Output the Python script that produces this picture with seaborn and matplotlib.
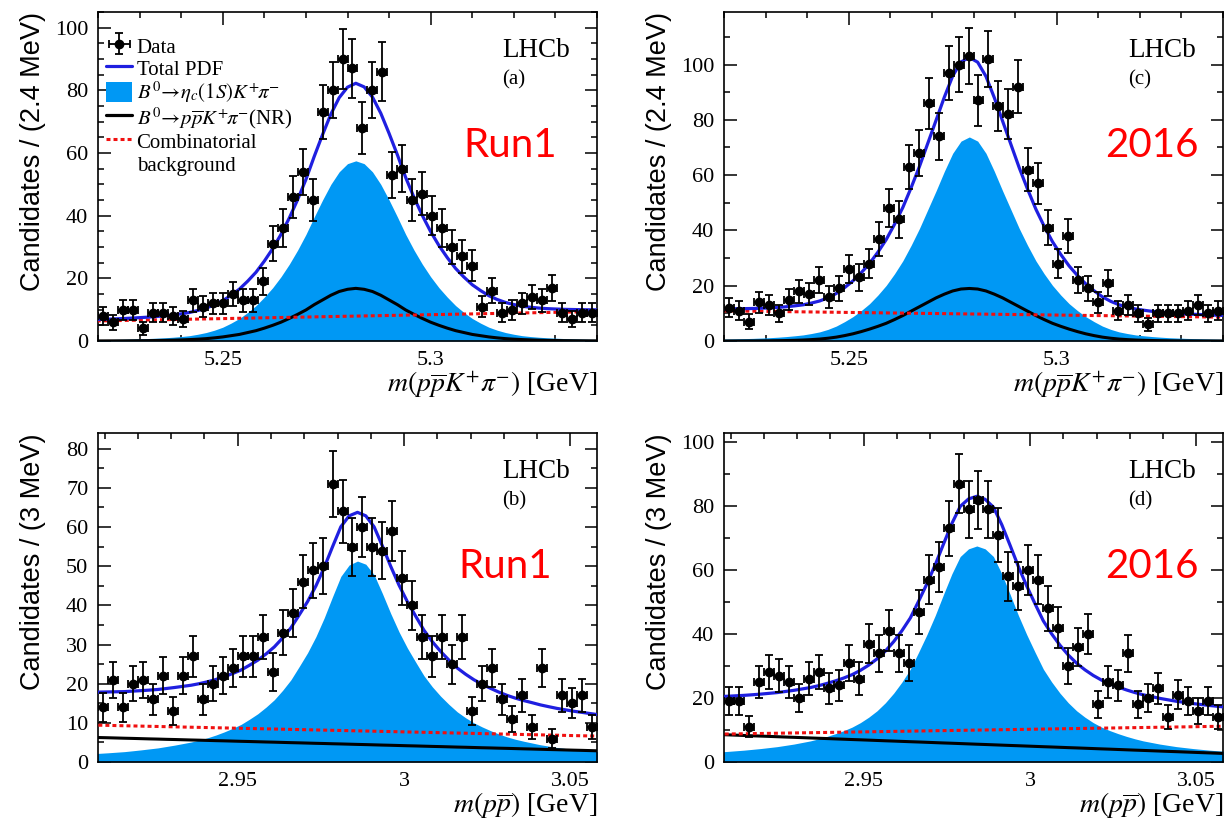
import numpy as np
import pandas as pd
import matplotlib
matplotlib.use("Agg")
import matplotlib.pyplot as plt
import seaborn as sns
from matplotlib.lines import Line2D
from matplotlib.patches import Patch
from matplotlib.ticker import FixedLocator, MultipleLocator

# ---------------- data ----------------
n_bins = 50
top_range = (5.22, 5.34)      # m(p pbar K+ pi-) [GeV], 2.4 MeV bins
bot_range = (2.908, 3.058)    # m(p pbar) [GeV], 3 MeV bins

counts_a = [8, 6, 10, 10, 4, 9, 9, 8, 7, 13, 11, 12, 12, 15, 13, 13, 19, 31, 36, 46,
            54, 45, 73, 80, 90, 87, 68, 80, 86, 53, 55, 45, 47, 40, 36, 30, 27, 24, 11, 16,
            9, 10, 12, 14, 13, 17, 9, 7, 9, 9]
counts_c = [12, 11, 7, 14, 13, 10, 15, 18, 17, 22, 16, 19, 26, 23, 28, 37, 48, 44, 63, 68,
            86, 74, 97, 100, 103, 87, 102, 85, 82, 92, 62, 57, 41, 28, 38, 22, 19, 14, 21, 11,
            13, 10, 6, 10, 10, 10, 11, 13, 10, 11]
counts_b = [14, 21, 14, 20, 21, 16, 22, 13, 22, 27, 16, 20, 22, 24, 27, 27, 32, 23, 33, 38,
            46, 49, 50, 71, 64, 55, 60, 55, 54, 59, 47, 40, 32, 27, 32, 25, 32, 13, 20, 24,
            16, 11, 17, 9, 24, 6, 17, 15, 17, 9]
counts_d = [19, 19, 11, 25, 28, 27, 25, 20, 26, 28, 23, 24, 31, 26, 37, 34, 41, 34, 31, 47,
            57, 61, 73, 87, 79, 82, 79, 71, 58, 55, 60, 57, 48, 42, 30, 36, 40, 18, 25, 24,
            34, 18, 20, 23, 14, 21, 19, 16, 19, 14]

# fit components on a regular grid (start, step)
grid_a = (5.218, 0.002)
sig_a = [0.4, 0.42, 0.45, 0.5, 0.55, 0.62, 0.7, 0.79, 0.9, 1.03, 1.2, 1.42, 1.7, 2.15, 2.7,
         3.45, 4.4, 5.7, 7.2, 9.1, 11.3, 14.0, 17.0, 20.5, 24.5, 29.0, 34.0, 39.6, 45.0, 50.0,
         54.0, 56.6, 57.5, 56.6, 54.0, 50.0, 45.0, 39.6, 34.0, 29.0, 24.5, 20.5, 17.0, 14.0,
         11.3, 9.1, 7.2, 5.7, 4.4, 3.45, 2.7, 2.15, 1.7, 1.42, 1.2, 1.03, 0.9, 0.79, 0.7, 0.62,
         0.55, 0.5, 0.45]
nr_a = [0.02, 0.03, 0.04, 0.05, 0.06, 0.08, 0.1, 0.12, 0.16, 0.2, 0.26, 0.35, 0.45, 0.58, 0.75,
        1.0, 1.3, 1.7, 2.1, 2.7, 3.3, 4.1, 5.0, 6.0, 7.2, 8.5, 9.9, 11.6, 13.1, 14.6, 15.8, 16.5,
        16.8, 16.5, 15.8, 14.6, 13.1, 11.6, 9.9, 8.5, 7.2, 6.0, 5.0, 4.1, 3.3, 2.7, 2.1, 1.7,
        1.3, 1.0, 0.75, 0.58, 0.45, 0.35, 0.26, 0.2, 0.16, 0.12, 0.1, 0.08, 0.06, 0.05, 0.04]
comb_a = [6.35, 6.40, 6.45, 6.50, 6.55, 6.60, 6.65, 6.70, 6.75, 6.80, 6.85, 6.90, 6.95, 7.00,
          7.05, 7.10, 7.15, 7.20, 7.25, 7.30, 7.35, 7.40, 7.45, 7.50, 7.55, 7.60, 7.65, 7.70,
          7.75, 7.80, 7.85, 7.90, 7.95, 8.00, 8.05, 8.10, 8.15, 8.20, 8.25, 8.30, 8.35, 8.40,
          8.45, 8.50, 8.55, 8.60, 8.65, 8.70, 8.75, 8.80, 8.85, 8.90, 8.95, 9.00, 9.05, 9.10,
          9.15, 9.20, 9.25, 9.30, 9.35, 9.40, 9.45]

grid_c = (5.215, 0.002)
sig_c = [0.55, 0.6, 0.65, 0.72, 0.8, 0.87, 0.95, 1.07, 1.2, 1.38, 1.6, 1.88, 2.2, 2.7, 3.3, 4.2,
         5.4, 7.0, 8.8, 11.0, 13.5, 16.6, 20.1, 24.3, 29.0, 34.6, 40.7, 47.5, 54.3, 61.4, 67.9,
         72.3, 73.8, 72.3, 67.9, 61.4, 54.3, 47.5, 40.7, 34.6, 29.0, 24.3, 20.1, 16.6, 13.5,
         11.0, 8.8, 7.0, 5.4, 4.2, 3.3, 2.7, 2.2, 1.88, 1.6, 1.38, 1.2, 1.07, 0.95, 0.87, 0.8,
         0.72, 0.65, 0.6, 0.55]
nr_c = [0.01, 0.01, 0.01, 0.015, 0.02, 0.03, 0.04, 0.06, 0.08, 0.12, 0.17, 0.25, 0.35, 0.5, 0.7,
        1.0, 1.4, 1.95, 2.6, 3.4, 4.3, 5.3, 6.4, 7.75, 9.2, 10.8, 12.4, 14.0, 15.6, 16.95, 18.1,
        18.8, 19.0, 18.8, 18.1, 16.95, 15.6, 14.0, 12.4, 10.8, 9.2, 7.75, 6.4, 5.3, 4.3, 3.4,
        2.6, 1.95, 1.4, 1.0, 0.7, 0.5, 0.35, 0.25, 0.17, 0.12, 0.08, 0.06, 0.04, 0.03, 0.02,
        0.015, 0.01, 0.01, 0.01]
comb_c = [11.0, 10.96, 10.92, 10.89, 10.85, 10.81, 10.77, 10.73, 10.70, 10.66, 10.62, 10.58,
          10.54, 10.51, 10.47, 10.43, 10.39, 10.35, 10.32, 10.28, 10.24, 10.20, 10.16, 10.13,
          10.09, 10.05, 10.01, 9.97, 9.94, 9.90, 9.86, 9.82, 9.78, 9.75, 9.71, 9.67, 9.63, 9.59,
          9.56, 9.52, 9.48, 9.44, 9.40, 9.37, 9.33, 9.29, 9.25, 9.21, 9.18, 9.14, 9.10, 9.06,
          9.02, 8.99, 8.95, 8.91, 8.87, 8.83, 8.80, 8.76, 8.72, 8.68, 8.64, 8.61, 8.57]

grid_b = (2.906, 0.0025)
sig_b = [2.1, 2.22, 2.35, 2.5, 2.65, 2.87, 3.1, 3.35, 3.6, 3.95, 4.3, 4.7, 5.1, 5.6, 6.2, 6.9,
         7.7, 8.6, 9.6, 10.9, 12.3, 14.0, 15.9, 18.3, 21.0, 24.4, 27.9, 32.0, 36.8, 42.2, 47.4,
         50.3, 51.3, 50.5, 47.8, 43.0, 37.9, 33.2, 29.1, 25.5, 22.0, 19.2, 16.8, 14.7, 12.8,
         11.3, 10.0, 8.95, 8.0, 7.15, 6.4, 5.8, 5.3, 4.85, 4.4, 4.05, 3.7, 3.45, 3.2, 3.0, 2.8,
         2.62, 2.45]
nr_b = [6.30, 6.24, 6.19, 6.13, 6.07, 6.02, 5.96, 5.90, 5.85, 5.79, 5.74, 5.68, 5.62, 5.57,
        5.51, 5.45, 5.40, 5.34, 5.28, 5.23, 5.17, 5.11, 5.06, 5.00, 4.94, 4.89, 4.83, 4.77,
        4.72, 4.66, 4.61, 4.55, 4.49, 4.44, 4.38, 4.32, 4.27, 4.21, 4.15, 4.10, 4.04, 3.98,
        3.93, 3.87, 3.81, 3.76, 3.70, 3.64, 3.59, 3.53, 3.48, 3.42, 3.36, 3.31, 3.25, 3.19,
        3.14, 3.08, 3.02, 2.97, 2.91, 2.85, 2.80]
comb_b = [9.44, 9.39, 9.35, 9.30, 9.25, 9.21, 9.16, 9.11, 9.07, 9.02, 8.98, 8.93, 8.88, 8.84,
          8.79, 8.74, 8.70, 8.65, 8.60, 8.56, 8.51, 8.46, 8.42, 8.37, 8.32, 8.28, 8.23, 8.18,
          8.14, 8.09, 8.05, 8.00, 7.95, 7.91, 7.86, 7.81, 7.77, 7.72, 7.67, 7.63, 7.58, 7.53,
          7.49, 7.44, 7.39, 7.35, 7.30, 7.25, 7.21, 7.16, 7.12, 7.07, 7.02, 6.98, 6.93, 6.88,
          6.84, 6.79, 6.74, 6.70, 6.65, 6.60, 6.56]

grid_d = (2.904, 0.0025)
sig_d = [3.0, 3.15, 3.3, 3.5, 3.7, 3.95, 4.2, 4.5, 4.8, 5.2, 5.6, 6.1, 6.6, 7.25, 8.0, 8.85, 9.8,
         10.9, 12.3, 14.0, 16.0, 18.5, 21.5, 25.0, 29.0, 34.3, 39.8, 45.8, 52.4, 58.8, 64.2,
         66.6, 67.5, 66.6, 64.2, 58.8, 52.4, 45.8, 39.8, 34.3, 29.0, 25.0, 21.5, 18.5, 16.0,
         14.0, 12.3, 10.9, 9.8, 8.85, 8.0, 7.25, 6.6, 6.1, 5.6, 5.2, 4.8, 4.5, 4.2, 3.95, 3.7,
         3.5, 3.3]
nr_d = [8.68, 8.58, 8.49, 8.39, 8.29, 8.19, 8.10, 8.00, 7.90, 7.80, 7.71, 7.61, 7.51, 7.41,
        7.32, 7.22, 7.12, 7.02, 6.93, 6.83, 6.73, 6.63, 6.54, 6.44, 6.34, 6.25, 6.15, 6.05,
        5.95, 5.86, 5.76, 5.66, 5.56, 5.47, 5.37, 5.27, 5.17, 5.08, 4.98, 4.88, 4.78, 4.69,
        4.59, 4.49, 4.40, 4.30, 4.20, 4.10, 4.01, 3.91, 3.81, 3.71, 3.62, 3.52, 3.42, 3.32,
        3.23, 3.13, 3.03, 2.93, 2.84, 2.74, 2.64]
comb_d = [8.67, 8.71, 8.75, 8.79, 8.83, 8.87, 8.91, 8.95, 8.99, 9.04, 9.08, 9.12, 9.16, 9.20,
          9.24, 9.28, 9.32, 9.36, 9.40, 9.44, 9.48, 9.52, 9.56, 9.60, 9.64, 9.69, 9.73, 9.77,
          9.81, 9.85, 9.89, 9.93, 9.97, 10.01, 10.05, 10.09, 10.13, 10.17, 10.21, 10.25, 10.29,
          10.33, 10.38, 10.42, 10.46, 10.50, 10.54, 10.58, 10.62, 10.66, 10.70, 10.74, 10.78,
          10.82, 10.86, 10.90, 10.94, 10.98, 11.02, 11.07, 11.11, 11.15, 11.19]

top_xticks = [5.25, 5.3]
top_xticklabels = ["5.25", "5.3"]
bot_xticks = [2.95, 3.0, 3.05]
bot_xticklabels = ["2.95", "3", "3.05"]

legend_labels = ["Data", "Total PDF",
                 r"$B^0\!\rightarrow\!\eta_c(1S)K^{+}\!\pi^{-}$",
                 r"$B^0\!\rightarrow\!p\overline{p}K^{+}\!\pi^{-}$(NR)",
                 "Combinatorial", "background"]

# ---------------- style ----------------
sns.set_theme(style="ticks")
plt.rcParams["font.family"] = ["Liberation Serif", "DejaVu Serif"]
plt.rcParams["mathtext.fontset"] = "stix"
plt.rcParams["axes.linewidth"] = 1.2
for k in ["text.color", "axes.labelcolor", "xtick.color", "ytick.color",
          "axes.edgecolor", "legend.labelcolor"]:
    plt.rcParams[k] = "black"

FILL = "#0098F4"
BLUE = "#1F1FE0"
RED = "#F01010"
DOT = (0, (1.3, 1.0))

fig = plt.figure(figsize=(12.26, 8.23), dpi=100)
W, H = 499 / 1226, 329 / 823
positions = {
    "a": (98 / 1226, 1 - 341 / 823),
    "c": (724 / 1226, 1 - 341 / 823),
    "b": (98 / 1226, 1 - 762 / 823),
    "d": (724 / 1226, 1 - 762 / 823),
}

panels = {
    "a": dict(counts=counts_a, rng=top_range, grid=grid_a, sig=sig_a, nr=nr_a, comb=comb_a,
              ymax=105, ymaj=20, ymin=5, xt=top_xticks, xtl=top_xticklabels,
              ylabel="Candidates / (2.4 MeV)",
              xlabel=r"$m(p\overline{p}K^{+}\pi^{-})$ [GeV]", tag="Run1", tagx=0.826),
    "c": dict(counts=counts_c, rng=top_range, grid=grid_c, sig=sig_c, nr=nr_c, comb=comb_c,
              ymax=119, ymaj=20, ymin=10, xt=top_xticks, xtl=top_xticklabels,
              ylabel="Candidates / (2.4 MeV)",
              xlabel=r"$m(p\overline{p}K^{+}\pi^{-})$ [GeV]", tag="2016", tagx=0.858),
    "b": dict(counts=counts_b, rng=bot_range, grid=grid_b, sig=sig_b, nr=nr_b, comb=comb_b,
              ymax=84, ymaj=10, ymin=5, xt=bot_xticks, xtl=bot_xticklabels,
              ylabel="Candidates / (3 MeV)",
              xlabel=r"$m(p\overline{p})$ [GeV]", tag="Run1", tagx=0.816),
    "d": dict(counts=counts_d, rng=bot_range, grid=grid_d, sig=sig_d, nr=nr_d, comb=comb_d,
              ymax=102.8, ymaj=20, ymin=10, xt=bot_xticks, xtl=bot_xticklabels,
              ylabel="Candidates / (3 MeV)",
              xlabel=r"$m(p\overline{p})$ [GeV]", tag="2016", tagx=0.858),
}

data_handle = None
for key, p in panels.items():
    l, b = positions[key]
    ax = fig.add_axes([l, b, W, H])
    lo, hi = p["rng"]
    bw = (hi - lo) / n_bins
    centers = lo + bw * (np.arange(n_bins) + 0.5)
    counts = np.array(p["counts"], dtype=float)

    sig = np.array(p["sig"])
    nr = np.array(p["nr"])
    comb = np.array(p["comb"])
    x0, dx = p["grid"]
    x = x0 + dx * np.arange(len(sig))
    total = sig + nr + comb
    df = pd.DataFrame({"x": x, "sig": sig, "nr": nr, "comb": comb, "total": total})

    ax.fill_between(df["x"], 0, df["sig"], color=FILL, lw=0, zorder=1)
    sns.lineplot(data=df, x="x", y="nr", ax=ax, color="black", lw=2.2, sort=False,
                 estimator=None, legend=False, zorder=3)
    sns.lineplot(data=df, x="x", y="comb", ax=ax, color=RED, lw=2.2, sort=False,
                 estimator=None, legend=False, zorder=3, linestyle=DOT)
    sns.lineplot(data=df, x="x", y="total", ax=ax, color=BLUE, lw=2.3, sort=False,
                 estimator=None, legend=False, zorder=4)
    eb = ax.errorbar(centers, counts, yerr=np.sqrt(counts), xerr=bw / 2, fmt="o",
                     color="black", ms=6, elinewidth=1.3, capsize=2.6, capthick=1.3,
                     zorder=6)
    if data_handle is None:
        data_handle = eb

    ax.set_xlim(lo, hi)
    ax.set_ylim(0, p["ymax"])
    ax.xaxis.set_major_locator(FixedLocator(p["xt"]))
    ax.set_xticklabels(p["xtl"])
    ax.xaxis.set_minor_locator(MultipleLocator(0.01))
    ax.yaxis.set_major_locator(MultipleLocator(p["ymaj"]))
    ax.yaxis.set_minor_locator(MultipleLocator(p["ymin"]))
    ax.tick_params(which="both", direction="in", top=True, right=True, width=1.1,
                   color="black", labelsize=16, labelcolor="black")
    ax.tick_params(which="major", length=9, pad=7)
    ax.tick_params(which="minor", length=4.5)
    for lab in ax.get_xticklabels() + ax.get_yticklabels():
        lab.set_fontfamily(["Liberation Serif", "DejaVu Serif"])
    for s in ax.spines.values():
        s.set_color("black")
        s.set_linewidth(1.2)

    ax.set_xlabel("")
    ax.set_ylabel("")
    ax.text(1.0, -0.085, p["xlabel"], transform=ax.transAxes, ha="right", va="top",
            fontsize=20, color="black")
    ax.text(-0.13, 1.0, p["ylabel"], transform=ax.transAxes, rotation=90,
            ha="center", va="top", fontsize=19.5, color="black",
            family=["Liberation Sans", "DejaVu Sans"])

    ax.text(0.81, 0.882, "LHCb", transform=ax.transAxes, ha="left", va="center",
            fontsize=19.5, color="black")
    ax.text(0.81, 0.793, "(" + key + ")", transform=ax.transAxes, ha="left", va="center",
            fontsize=15, color="black")
    ax.text(p["tagx"], 0.595, p["tag"], transform=ax.transAxes, ha="center",
            va="center", fontsize=29, color="#FF0000", family=["Lato", "DejaVu Sans"])

    if key == "a":
        handles = [data_handle,
                   Line2D([], [], color=BLUE, lw=2.3),
                   Patch(facecolor=FILL, edgecolor="none"),
                   Line2D([], [], color="black", lw=2.3),
                   Line2D([], [], color=RED, lw=2.2, linestyle=DOT),
                   Line2D([], [], color="none")]
        leg = ax.legend(handles, legend_labels, loc="upper left",
                        bbox_to_anchor=(0.0, 0.955), frameon=False, fontsize=15,
                        handlelength=1.25, handleheight=1.15, handletextpad=0.2,
                        labelspacing=0.0, borderaxespad=0.3, borderpad=0.1)
        for t in leg.get_texts():
            t.set_color("black")

fig.savefig("out.png", dpi=100)
